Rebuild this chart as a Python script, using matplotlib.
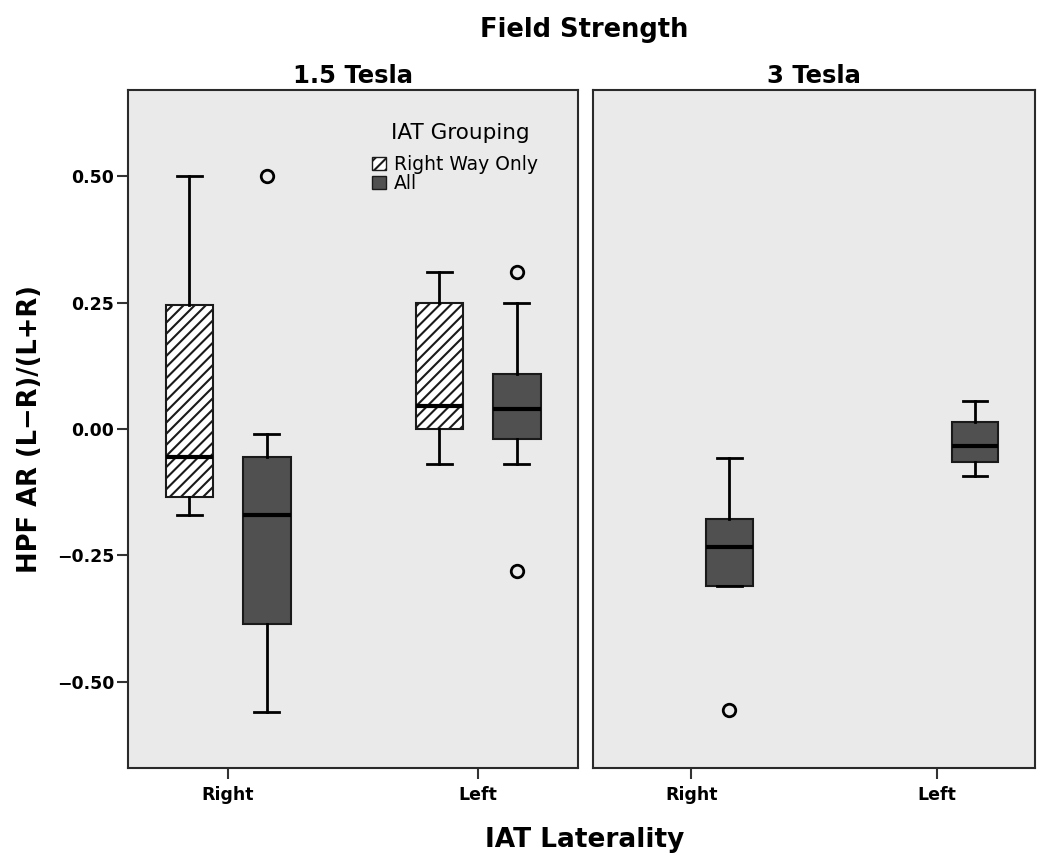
import matplotlib.pyplot as plt
from matplotlib.patches import Patch

# IAT laterality groups on each panel
groups = ["Right", "Left"]
panels = ["1.5 Tesla", "3 Tesla"]

# 1.5 Tesla, "Right Way Only" boxes (Right, Left)
rwo_15_whislo = [-0.17, -0.07]
rwo_15_q1 = [-0.135, 0.00]
rwo_15_med = [-0.055, 0.046]
rwo_15_q3 = [0.245, 0.25]
rwo_15_whishi = [0.50, 0.31]
rwo_15_fliers = [[], []]

# 1.5 Tesla, "All" boxes (Right, Left)
all_15_whislo = [-0.56, -0.07]
all_15_q1 = [-0.385, -0.02]
all_15_med = [-0.17, 0.04]
all_15_q3 = [-0.056, 0.109]
all_15_whishi = [-0.01, 0.25]
all_15_fliers = [[0.50], [0.31, -0.28]]

# 3 Tesla, "All" boxes (Right, Left)
all_3_whislo = [-0.311, -0.093]
all_3_q1 = [-0.311, -0.065]
all_3_med = [-0.234, -0.034]
all_3_q3 = [-0.177, 0.014]
all_3_whishi = [-0.057, 0.055]
all_3_fliers = [[-0.555], []]

yticks = [-0.50, -0.25, 0.00, 0.25, 0.50]

BG = "#EAEAEA"
DARK = "#505050"
EDGE = "#1A1A1A"
OFFSET = 0.155
WIDTH = 0.19
HATCH = "///"

plt.rcParams["hatch.linewidth"] = 1.5


def stats(whislo, q1, med, q3, whishi, fliers):
    return [
        {"whislo": a, "q1": b, "med": c, "q3": d, "whishi": e, "fliers": f}
        for a, b, c, d, e, f in zip(whislo, q1, med, q3, whishi, fliers)
    ]


def draw(ax, st, positions, hatched):
    box_kw = dict(
        facecolor="white" if hatched else DARK,
        edgecolor=EDGE,
        linewidth=1.5,
    )
    if hatched:
        box_kw["hatch"] = HATCH
    ax.bxp(
        st,
        positions=positions,
        widths=WIDTH,
        capwidths=0.1,
        patch_artist=True,
        boxprops=box_kw,
        medianprops=dict(color="black", linewidth=3),
        whiskerprops=dict(color="black", linewidth=2),
        capprops=dict(color="black", linewidth=2),
        flierprops=dict(marker="o", markerfacecolor="none", markeredgecolor="black",
                        markeredgewidth=2, markersize=9),
        manage_ticks=False,
    )


fig = plt.figure(figsize=(10.5, 8.67), dpi=100)
fig.patch.set_facecolor("white")
ax1 = fig.add_axes([128 / 1050, 1 - 768 / 867, 450 / 1050, 678 / 867])
ax2 = fig.add_axes([593 / 1050, 1 - 768 / 867, 442 / 1050, 678 / 867])

x = [0, 1]
draw(ax1, stats(rwo_15_whislo, rwo_15_q1, rwo_15_med, rwo_15_q3, rwo_15_whishi, rwo_15_fliers),
     [p - OFFSET for p in x], True)
draw(ax1, stats(all_15_whislo, all_15_q1, all_15_med, all_15_q3, all_15_whishi, all_15_fliers),
     [p + OFFSET for p in x], False)
draw(ax2, stats(all_3_whislo, all_3_q1, all_3_med, all_3_q3, all_3_whishi, all_3_fliers),
     [p + OFFSET for p in x], False)

for ax, title in zip([ax1, ax2], panels):
    ax.set_facecolor(BG)
    ax.set_xlim(-0.4, 1.4)
    ax.set_ylim(-0.67, 0.67)
    ax.set_xticks(x)
    ax.set_xticklabels(groups, fontsize=12.5, fontweight="bold")
    ax.tick_params(axis="x", length=8, width=1.5, color="#333333", pad=5)
    for s in ax.spines.values():
        s.set_linewidth(1.5)
        s.set_color("#2A2A2A")
    ax.set_title(title, fontsize=17.5, fontweight="bold", pad=5)

ax1.set_yticks(yticks)
ax1.set_yticklabels([f"{v:.2f}".replace("-", "\u2212") for v in yticks],
                    fontsize=12.5, fontweight="bold")
ax1.tick_params(axis="y", length=8, width=1.5, color="#333333", pad=2)
ax2.set_yticks([])
ax1.set_ylabel("HPF AR (L\u2212R)/(L+R)", fontsize=18.5, fontweight="bold", labelpad=10)

handles = [
    Patch(facecolor="white", edgecolor=EDGE, hatch=HATCH, linewidth=1),
    Patch(facecolor=DARK, edgecolor=EDGE, linewidth=1),
]
ax1.text((460 - 128) / 450, (768 - 133) / 678, "IAT Grouping", transform=ax1.transAxes,
         ha="center", va="center", fontsize=15.5)
ax1.legend(handles, ["Right Way Only", "All"],
           loc="upper left", bbox_to_anchor=((372 - 128) / 450, (768 - 155) / 678),
           frameon=False, fontsize=13.5, handlelength=0.75, handleheight=0.75,
           handletextpad=0.4, labelspacing=0.0, borderpad=0.0, borderaxespad=0.0)

fig.text(584 / 1050, 1 - 30 / 867, "Field Strength", ha="center", va="center",
         fontsize=18.5, fontweight="bold")
fig.text(585 / 1050, 1 - 840 / 867, "IAT Laterality", ha="center", va="center",
         fontsize=19, fontweight="bold")

fig.savefig("out.png", dpi=100)
